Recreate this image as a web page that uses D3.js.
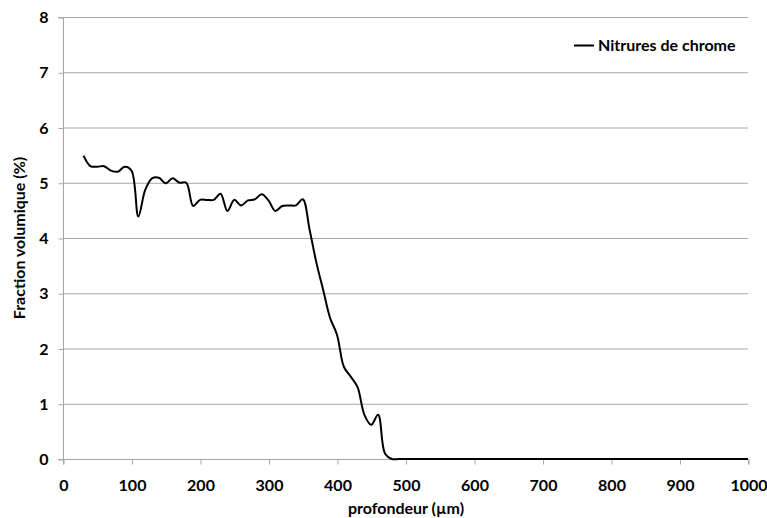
<!DOCTYPE html>
<html><head><meta charset="utf-8">
<script src="https://cdn.jsdelivr.net/npm/d3@7"></script>
<style>
body{margin:0;background:#fff;}
text{font-family:Lato,"Open Sans",sans-serif;font-weight:bold;fill:#000;}
</style></head><body>
<svg id="c" width="767" height="518"></svg>
<script>
const depth = [30,40,50,60,70,80,90,100,110,120,130,140,150,160,170,180,190,200,210,220,230,240,250,260,270,280,290,300,310,320,330,340,350,360,370,380,390,400,410,420,430,440,450,460,470,480,490,500,550,600,650,700,750,800,850,900,950,1000];
const fraction = [5.49,5.30,5.29,5.30,5.22,5.20,5.29,5.22,4.39,4.87,5.08,5.09,4.99,5.08,5.00,5.00,4.58,4.69,4.69,4.69,4.80,4.49,4.69,4.59,4.68,4.70,4.79,4.68,4.49,4.58,4.59,4.59,4.70,4.15,3.55,3.05,2.55,2.25,1.67,1.49,1.30,0.80,0.62,0.80,0.10,0.0,0,0,0,0,0,0,0,0,0,0,0,0];
const xTicks = [0,100,200,300,400,500,600,700,800,900,1000];
const yTicks = [0,1,2,3,4,5,6,7,8];
const seriesName = "Nitrures de chrome";
const xTitle = "profondeur (µm)";
const yTitle = "Fraction volumique (%)";

const svg = d3.select("#c");
const L=63, R=748, T=17, B=459;
const x = d3.scaleLinear().domain([0,1000]).range([L,R]);
const y = d3.scaleLinear().domain([0,8]).range([B,T]);

// gridlines
svg.append("g").selectAll("line").data(yTicks.filter(d=>d>0)).join("line")
  .attr("x1",L).attr("x2",R).attr("y1",d=>y(d)+0.5).attr("y2",d=>y(d)+0.5)
  .attr("stroke","#a6a6a6").attr("stroke-width",1);

// y axis
const ya = svg.append("g").attr("transform",`translate(${L+0.5},0.5)`)
  .call(d3.axisLeft(y).tickValues(yTicks).tickSize(5).tickPadding(10).tickFormat(d3.format("d")));
ya.select(".domain").attr("stroke","#a6a6a6").attr("d",`M-5,${B}H0V${T}H-5`);
ya.selectAll(".tick line").attr("stroke","#a6a6a6");
ya.selectAll(".tick text").style("font-size","16px").attr("fill","#000");

// x axis
const xa = svg.append("g").attr("transform",`translate(0.5,${B+0.5})`)
  .call(d3.axisBottom(x).tickValues(xTicks).tickSize(5).tickPadding(15).tickFormat(d3.format("d")));
xa.select(".domain").attr("stroke","#a6a6a6").attr("d",`M${L},5V0H${R}V5`);
xa.selectAll(".tick line").attr("stroke","#a6a6a6");
xa.selectAll(".tick text").style("font-size","16px").attr("fill","#000");

// line
const data = depth.map((d,i)=>[d,fraction[i]]);
svg.append("path").datum(data)
  .attr("fill","none").attr("stroke","#000").attr("stroke-width",2)
  .attr("d", d3.line().x(d=>x(d[0])).y(d=>y(d[1])).curve(d3.curveCatmullRom.alpha(0.5)));

// titles
svg.append("text").attr("x",406).attr("y",514).attr("text-anchor","middle")
  .style("font-size","16px").text(xTitle);
svg.append("text").attr("transform",`translate(25,238) rotate(-90)`)
  .attr("text-anchor","middle").style("font-size","16px").text(yTitle);

// legend
svg.append("line").attr("x1",574).attr("x2",594).attr("y1",45.5).attr("y2",45.5)
  .attr("stroke","#000").attr("stroke-width",2);
svg.append("text").attr("x",598).attr("y",51).style("font-size","16px").text(seriesName);
</script>
</body></html>
